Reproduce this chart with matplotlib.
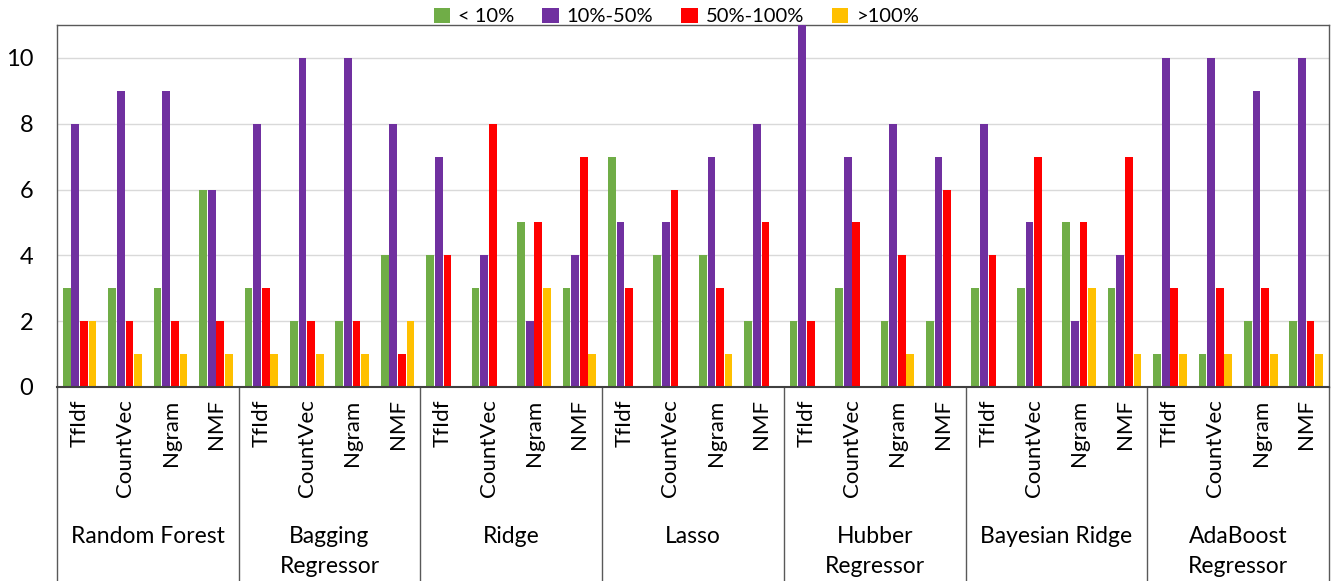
import matplotlib
matplotlib.use("Agg")
import matplotlib.pyplot as plt
import numpy as np
from matplotlib.lines import Line2D

models = ["Random Forest", "Bagging\nRegressor", "Ridge", "Lasso",
          "Hubber\nRegressor", "Bayesian Ridge", "AdaBoost\nRegressor"]
features = ["TfIdf", "CountVec", "Ngram", "NMF"]
series_names = ["< 10%", "10%-50%", "50%-100%", ">100%"]
colors = ["#70AD47", "#7030A0", "#FF0000", "#FFC000"]

# values per model, ordered TfIdf, CountVec, Ngram, NMF
lt10 = [3, 3, 3, 6,   3, 2, 2, 4,   4, 3, 5, 3,   7, 4, 4, 2,
        2, 3, 2, 2,   3, 3, 5, 3,   1, 1, 2, 2]
p10_50 = [8, 9, 9, 6,   8, 10, 10, 8,   7, 4, 2, 4,   5, 5, 7, 8,
          11, 7, 8, 7,   8, 5, 2, 4,   10, 10, 9, 10]
p50_100 = [2, 2, 2, 2,   3, 2, 2, 1,   4, 8, 5, 7,   3, 6, 3, 5,
           2, 5, 4, 6,   4, 7, 5, 7,   3, 3, 3, 2]
gt100 = [2, 1, 1, 1,   1, 1, 1, 2,   0, 0, 3, 1,   0, 0, 1, 0,
         0, 0, 1, 0,   0, 0, 3, 1,   1, 1, 1, 1]
series = [lt10, p10_50, p50_100, gt100]

plt.rcParams['font.family'] = ['Lato', 'DejaVu Sans']

fig = plt.figure(figsize=(13.37, 5.81), dpi=100)
ax = fig.add_axes([0.0426, 0.334, 0.9514, 0.623])

n = len(lt10)
x = np.arange(n)
bw = 0.17
step = 0.19
for i, (vals, c, name) in enumerate(zip(series, colors, series_names)):
    ax.bar(x + (i - 1.5) * step, vals, width=bw, color=c, label=name,
           edgecolor="none", linewidth=0, zorder=3)

ax.set_xlim(-0.5, n - 0.5)
ax.set_ylim(0, 11)
ax.set_yticks([0, 2, 4, 6, 8, 10])
ax.tick_params(axis='y', labelsize=17, length=0, pad=17)
ax.yaxis.grid(True, color="#D9D9D9", linewidth=1, zorder=0)
ax.set_axisbelow(True)
for s in ["top", "right", "left"]:
    ax.spines[s].set_color("#595959")
    ax.spines[s].set_linewidth(1)
ax.spines["bottom"].set_color("#404040")
ax.spines["bottom"].set_linewidth(1.5)
ax.spines["bottom"].set_zorder(5)

ax.set_xticks(x)
ax.set_xticklabels(features * len(models), rotation=90, fontsize=16)
ax.tick_params(axis='x', length=0, pad=9)

# group separators and labels
for g in range(len(models) + 1):
    xb = g * 4 - 0.5
    ax.add_line(Line2D([xb, xb], [0, -0.54], transform=ax.get_xaxis_transform(),
                       color="#595959", linewidth=1, clip_on=False))
for g, m in enumerate(models):
    ax.text(g * 4 + 1.5, -0.383, m, transform=ax.get_xaxis_transform(),
            ha="center", va="top", fontsize=16.5, linespacing=1.55)

leg = fig.legend(loc="upper center", bbox_to_anchor=(0.506, 1.018), ncol=4,
                 frameon=False, fontsize=14.5, handlelength=0.8, handleheight=0.8,
                 handletextpad=0.4, columnspacing=1.4)

fig.savefig("out.png", dpi=100)
